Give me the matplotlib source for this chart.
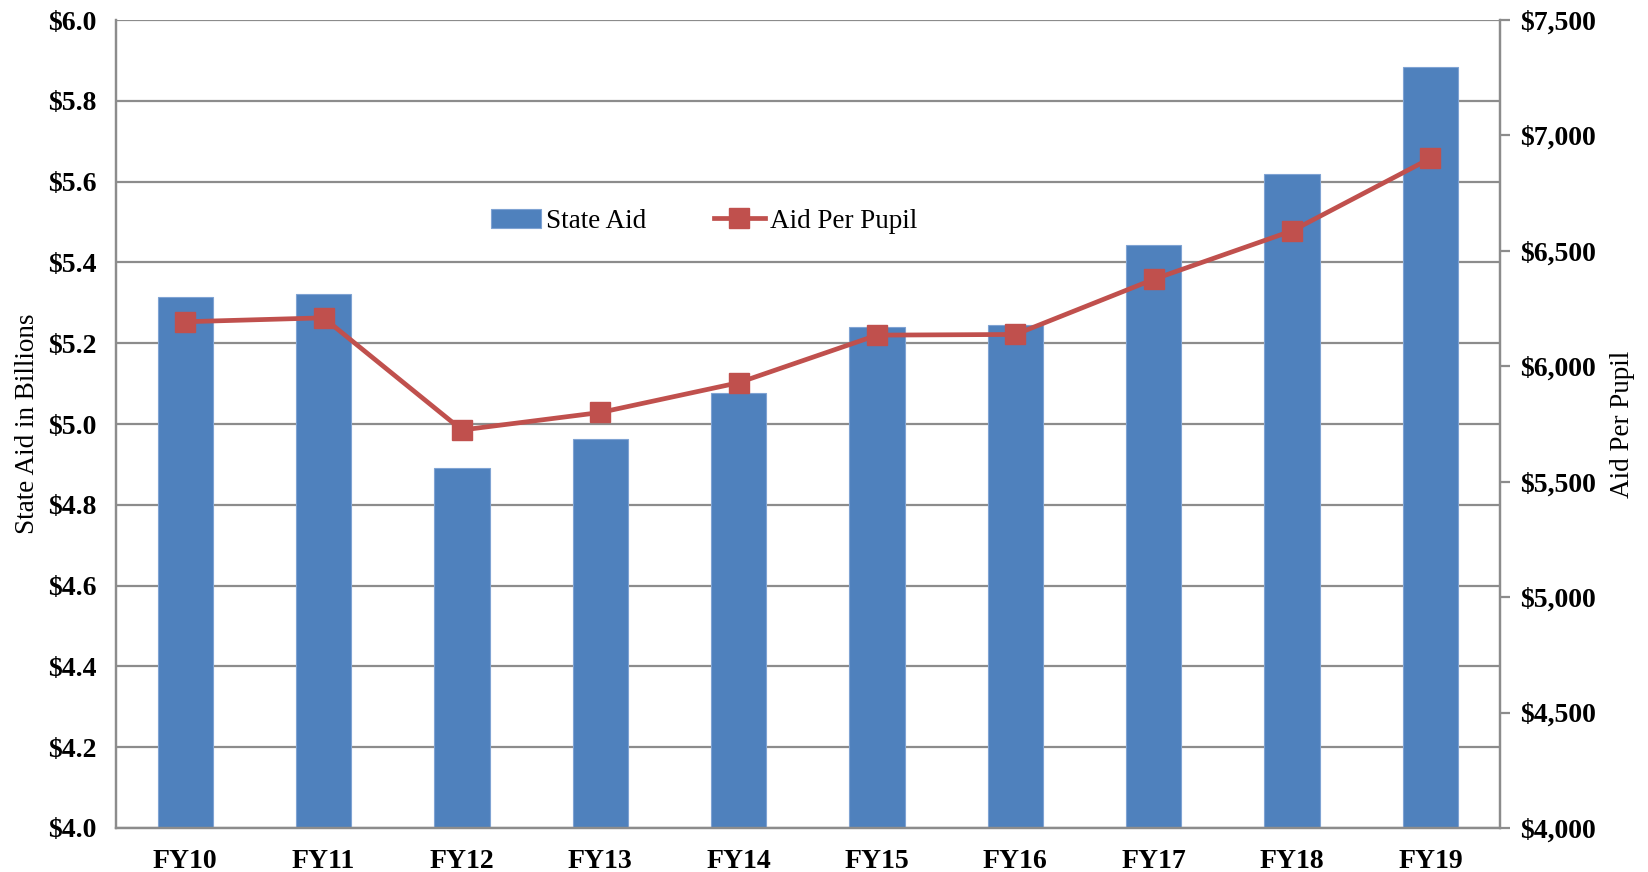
import matplotlib.pyplot as plt
import numpy as np
from matplotlib.ticker import FuncFormatter, MultipleLocator

plt.rcParams['font.family'] = ['Liberation Serif', 'DejaVu Serif']

years = ['FY10', 'FY11', 'FY12', 'FY13', 'FY14', 'FY15', 'FY16', 'FY17', 'FY18', 'FY19']
state_aid = [5.314, 5.323, 4.892, 4.963, 5.078, 5.241, 5.244, 5.443, 5.620, 5.884]
aid_per_pupil = [6193, 6210, 5724, 5800, 5929, 6135, 6138, 6377, 6587, 6901]

bar_col = '#4F81BD'
line_col = '#C0504D'
grid_col = '#8c8c8c'

fig = plt.figure(figsize=(16.48, 8.72), dpi=100)
ax = fig.add_axes([0.0704, 0.0505, 0.8396, 0.9265])
ax2 = ax.twinx()

x = np.arange(len(years))
bars = ax.bar(x, state_aid, width=0.4, color=bar_col, edgecolor='#7fa3d3',
              linewidth=0.8, label='State Aid', zorder=2)
ax.set_xlim(-0.5, len(years) - 0.5)
ax.set_ylim(4.0, 6.0)
ax.yaxis.set_major_locator(MultipleLocator(0.2))
ax.yaxis.set_major_formatter(FuncFormatter(lambda v, p: '${:.1f}'.format(v)))
ax.grid(axis='y', color=grid_col, linewidth=1.6, zorder=0)
ax.set_axisbelow(True)
ax.tick_params(axis='y', length=0, pad=14, labelsize=20)
ax.tick_params(axis='x', length=0, pad=15, labelsize=20)
ax.set_xticks(x)
ax.set_xticklabels(years, fontweight='bold')
for lab in ax.get_yticklabels():
    lab.set_fontweight('bold')
ax.set_ylabel('State Aid in Billions', fontsize=19.5, labelpad=6)

line, = ax2.plot(x, aid_per_pupil, color=line_col, linewidth=3.4, marker='s',
                 markersize=14, label='Aid Per Pupil', zorder=3)
ax2.set_ylim(4000, 7500)
ax2.yaxis.set_major_locator(MultipleLocator(500))
ax2.yaxis.set_major_formatter(FuncFormatter(lambda v, p: '${:,.0f}'.format(v)))
ax2.tick_params(axis='y', length=7, width=1.6, color=grid_col, pad=8, labelsize=20)
for lab in ax2.get_yticklabels():
    lab.set_fontweight('bold')
ax2.set_ylabel('Aid Per Pupil', fontsize=19.5, labelpad=10)

for a in (ax, ax2):
    for s in a.spines.values():
        s.set_color(grid_col)
        s.set_linewidth(1.6)
    a.spines['top'].set_visible(False)

ax.legend([bars, line], ['State Aid', 'Aid Per Pupil'], loc='center',
          bbox_to_anchor=(0.425, 0.751), ncol=2, frameon=False, fontsize=19.5,
          handlelength=1.85, columnspacing=2.5, handletextpad=0.2)

fig.savefig('out.png', dpi=100)
